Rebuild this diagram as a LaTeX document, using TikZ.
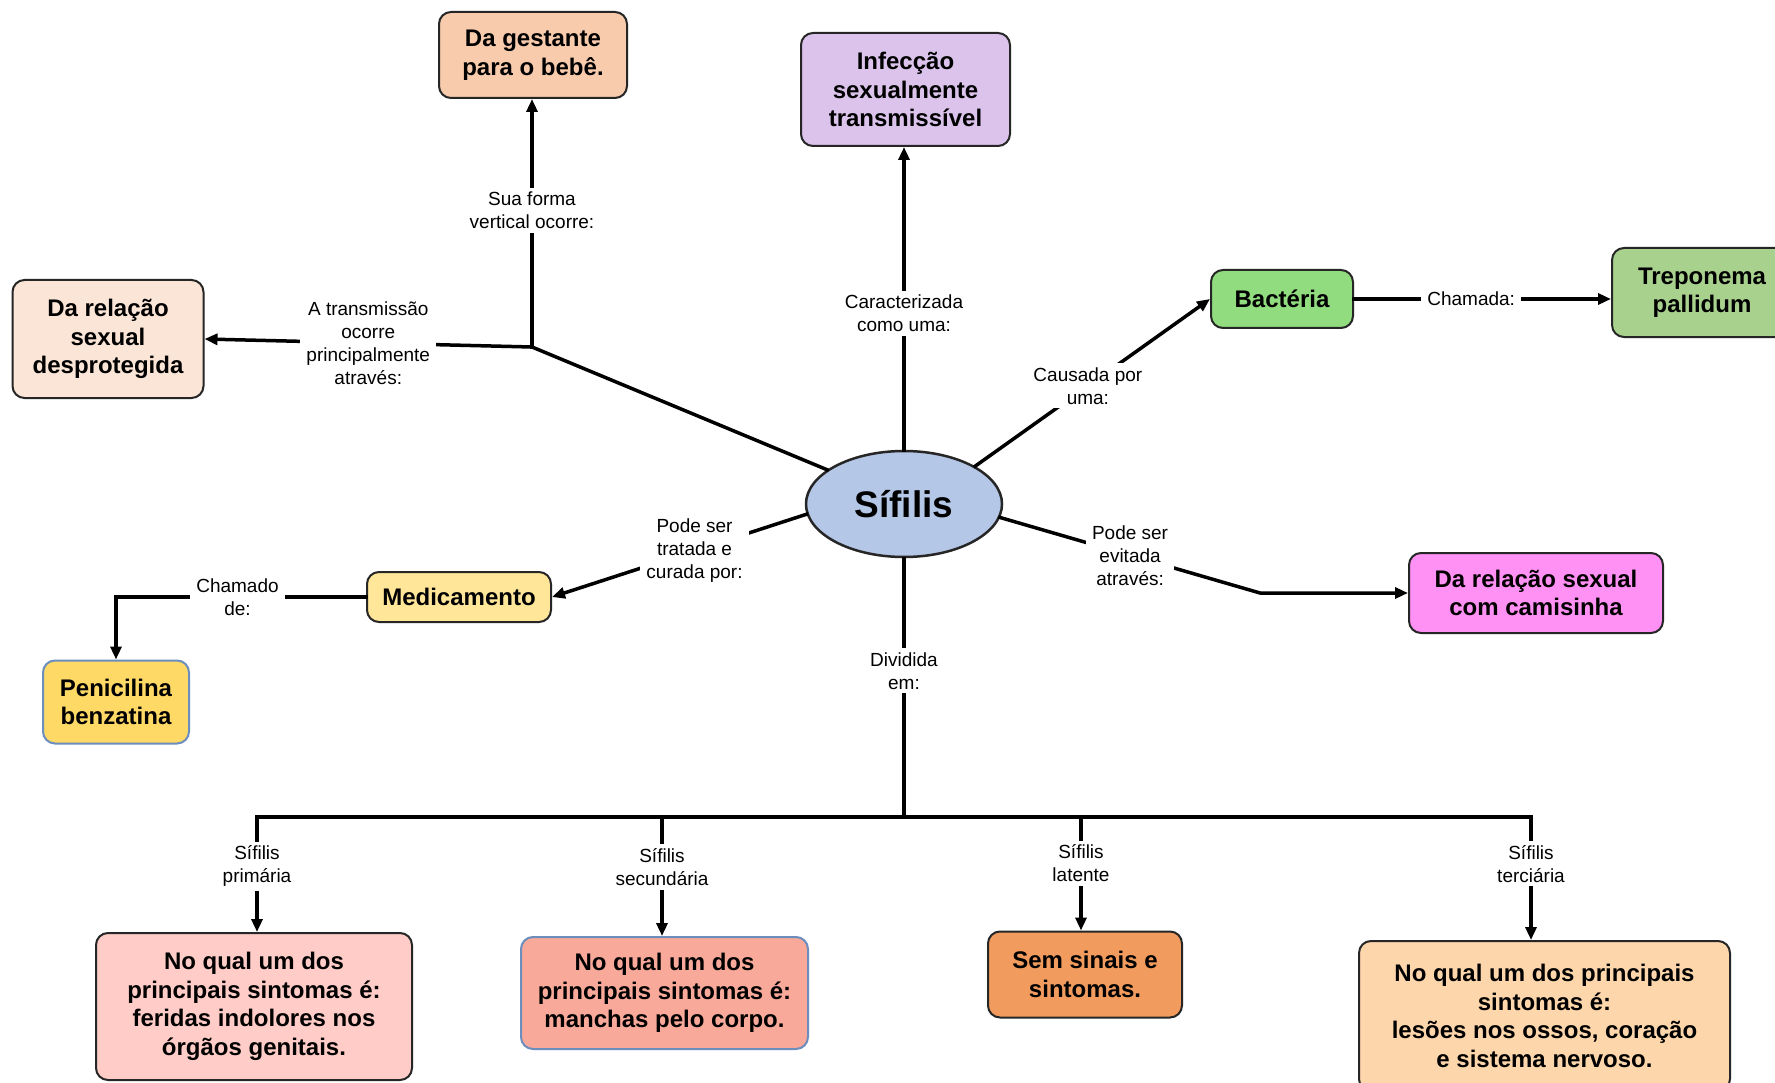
\documentclass[tikz,border=0pt]{standalone}
\usepackage{fontspec}
\setmainfont{Liberation Sans}
\usetikzlibrary{arrows.meta,shapes.geometric}

\definecolor{cGest}{HTML}{F8CBAD}
\definecolor{cDesp}{HTML}{FBE5D6}
\definecolor{cIst}{HTML}{DBC3EB}
\definecolor{cBact}{HTML}{90DC7E}
\definecolor{cTrep}{HTML}{A9D18E}
\definecolor{cSif}{HTML}{B4C7E7}
\definecolor{cMed}{HTML}{FFE699}
\definecolor{cPen}{HTML}{FFD966}
\definecolor{cCam}{HTML}{FF90F4}
\definecolor{cPrim}{HTML}{FFCCC7}
\definecolor{cSec}{HTML}{F9A99A}
\definecolor{cLat}{HTML}{F19C5E}
\definecolor{cTer}{HTML}{FDD6AB}
\definecolor{cBlueEdge}{HTML}{6C8EBF}

\begin{document}
\begin{tikzpicture}[x=1pt,y=-1pt,
  box/.style={draw=black!85, line width=2pt, rounded corners=12pt, align=center,
    font=\bfseries\fontsize{24}{28.5}\selectfont, inner sep=0pt},
  lbl/.style={fill=white, align=center, font=\fontsize{19}{23}\selectfont,
    inner xsep=6pt, inner ysep=4pt},
  link/.style={line width=3.5pt, line cap=rect},
  arr/.style={link, -{Triangle[length=13pt,width=11pt]}},
]
\useasboundingbox (0,0) rectangle (1775,1083);
\clip (0,0) rectangle (1775,1083);
\fill[white] (0,0) rectangle (1775,1083);

% central concept
\node[ellipse, draw=black!85, line width=2.5pt, fill=cSif, minimum width=196pt,
  minimum height=106pt, inner sep=0pt, font=\bfseries\fontsize{37}{40}\selectfont]
  (sif) at (904,504) {Sífilis};

% concept boxes
\node[box, fill=cGest, minimum width=188pt, minimum height=86pt] (gest) at (533,55) {Da gestante\\para o bebê.};
\node[box, fill=cDesp, minimum width=191pt, minimum height=118pt] (desp) at (108,339) {Da relação\\sexual\\desprotegida};
\node[box, fill=cIst, minimum width=209pt, minimum height=113pt] (ist) at (905.5,89.5) {Infecção\\sexualmente\\transmissível};
\node[box, fill=cBact, minimum width=142pt, minimum height=58pt] (bact) at (1282,299) {Bactéria};
\node[box, fill=cTrep, minimum width=180pt, minimum height=89pt] (trep) at (1702,292.5) {Treponema\\pallidum};
\node[box, fill=cMed, minimum width=184pt, minimum height=50pt] (med) at (459,597) {Medicamento};
\node[box, draw=cBlueEdge, fill=cPen, minimum width=146pt, minimum height=83pt] (pen) at (116,702) {Penicilina\\benzatina};
\node[box, fill=cCam, minimum width=254pt, minimum height=80pt] (cam) at (1536,593) {Da relação sexual\\com camisinha};
\node[box, fill=cPrim, minimum width=316pt, minimum height=147pt] (prim) at (254,1006.5) {No qual um dos\\principais sintomas é:\\feridas indolores nos\\órgãos genitais.};
\node[box, draw=cBlueEdge, fill=cSec, minimum width=287pt, minimum height=112pt] (sec) at (664.5,993) {No qual um dos\\principais sintomas é:\\manchas pelo corpo.};
\node[box, fill=cLat, minimum width=194pt, minimum height=86pt] (lat) at (1085,974.5) {Sem sinais e\\sintomas.};
\node[box, fill=cTer, minimum width=371pt, minimum height=150pt] (ter) at (1544.5,1016) {No qual um dos principais\\sintomas é:\\lesões nos ossos, coração\\e sistema nervoso.};

% transmission branch
\coordinate (j1) at (532,347);
\draw[link] (sif.156) -- (j1);
\draw[arr] (j1) -- node[lbl, pos=0.55] {Sua forma\\vertical ocorre:} (j1 |- gest.south);
\draw[arr] (j1) -- node[lbl, pos=0.5] {A transmissão\\ocorre\\principalmente\\através:} (desp.east);

% classification and cause
\draw[arr] (sif.north) -- node[lbl, pos=0.45] {Caracterizada\\como uma:} (sif.north |- ist.south);
\draw[arr] (sif.28) -- node[lbl, pos=0.48] {Causada por\\uma:} (bact.west);
\draw[arr] (bact.east) -- node[lbl, pos=0.456] {Chamada:} (bact.east -| trep.west);

% treatment
\draw[arr] (sif.186) -- node[lbl, pos=0.44] {Pode ser\\tratada e\\curada por:} (med.east);
\draw[arr] (med.west) -| node[lbl, pos=0.257] {Chamado\\de:} (pen.north);

% prevention
\coordinate (c1) at (1260,593);
\draw[arr] (sif.-8) -- node[lbl] {Pode ser\\evitada\\através:} (c1) -- (cam.west);

% stages
\coordinate (bus) at (904,817);
\coordinate (k1) at (257,817);
\coordinate (k2) at (662,817);
\coordinate (k3) at (1081,817);
\coordinate (k4) at (1531,817);
\draw[link] (sif.south) -- node[lbl, pos=0.435] {Dividida\\em:} (bus);
\draw[link] (k1) -- (k4);
\draw[arr] (k1) -- node[lbl, pos=0.43] {Sífilis\\primária} (k1 |- prim.north);
\draw[arr] (k2) -- node[lbl, pos=0.42] {Sífilis\\secundária} (k2 |- sec.north);
\draw[arr] (k3) -- node[lbl, pos=0.41] {Sífilis\\latente} (k3 |- lat.north);
\draw[arr] (k4) -- node[lbl, pos=0.38] {Sífilis\\terciária} (k4 |- ter.north);
\end{tikzpicture}
\end{document}
